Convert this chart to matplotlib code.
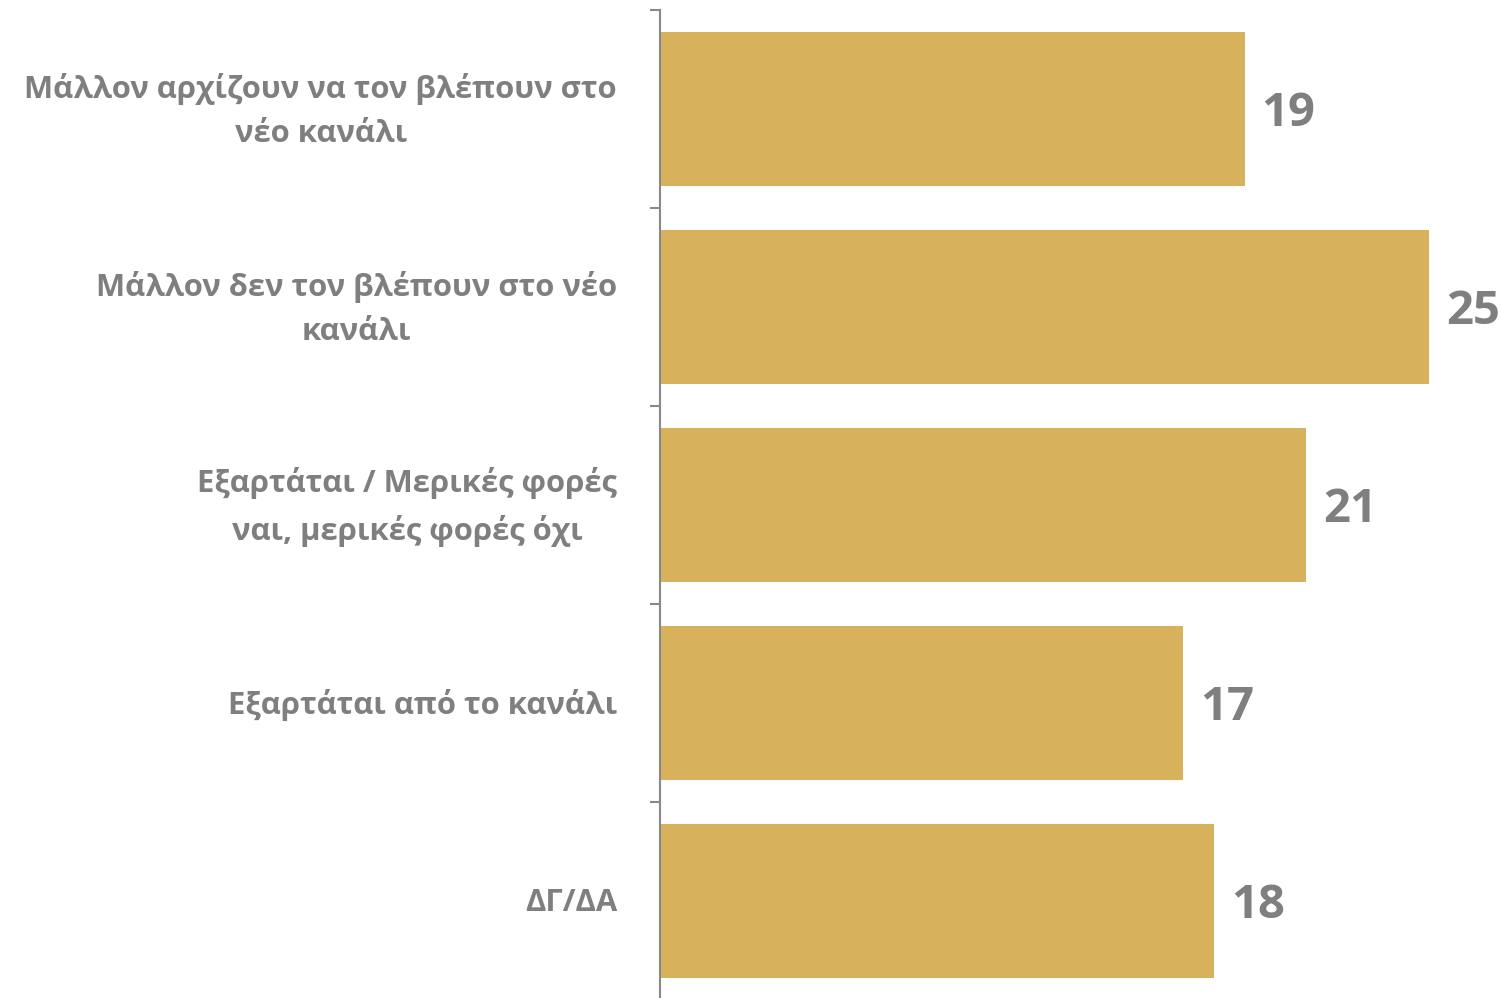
import matplotlib.pyplot as plt
import matplotlib.transforms as mtransforms
import numpy as np

categories = [
    "Μάλλον αρχίζουν να τον βλέπουν στο\nνέο κανάλι",
    "Μάλλον δεν τον βλέπουν στο νέο\nκανάλι",
    "Εξαρτάται / Μερικές φορές\nναι, μερικές φορές όχι",
    "Εξαρτάται από το κανάλι",
    "ΔΓ/ΔΑ",
]
values = [19, 25, 21, 17, 18]

BAR_COLOR = "#D8B15C"
TEXT_COLOR = "#7F7F7F"
AXIS_COLOR = "#898989"

plt.rcParams.update({
    "font.family": ["Open Sans", "DejaVu Sans"],
    "font.weight": "bold",
})

fig = plt.figure(figsize=(15.01, 9.98), dpi=100)
ax = fig.add_axes([660 / 1501, -2 / 998, 841 / 1501, 990 / 998])

y = np.arange(len(categories))
ax.barh(y, values, height=0.78, color=BAR_COLOR)

# value labels just past the bar ends
for yi, v in zip(y, values):
    ax.text(v + 0.55, yi + 0.025, f"{v}", va="center", ha="left",
            fontsize=34, fontweight="bold", color=TEXT_COLOR)

# category labels, right-aligned block, centred lines
trans = mtransforms.blended_transform_factory(ax.transAxes, ax.transData)
for yi, cat in zip(y, categories):
    ax.text(-43 / 841, yi + 0.01, cat, transform=trans, ha="right", va="center",
            multialignment="center", linespacing=1.65,
            fontsize=22.3, fontweight="bold", color=TEXT_COLOR)

ax.set_xlim(0, 841 / 30.77)
ax.set_ylim(len(categories) - 0.5, -0.5)

ax.set_yticks([])
ax.set_yticks(np.arange(-0.5, len(categories) + 0.5, 1), minor=True)
ax.tick_params(axis="y", which="minor", length=7.5, width=1.5,
               color=AXIS_COLOR, direction="out")

ax.set_xticks([])
for side in ["top", "right", "bottom"]:
    ax.spines[side].set_visible(False)
ax.spines["left"].set_color(AXIS_COLOR)
ax.spines["left"].set_linewidth(1.5)

fig.savefig("out.png", dpi=100)
